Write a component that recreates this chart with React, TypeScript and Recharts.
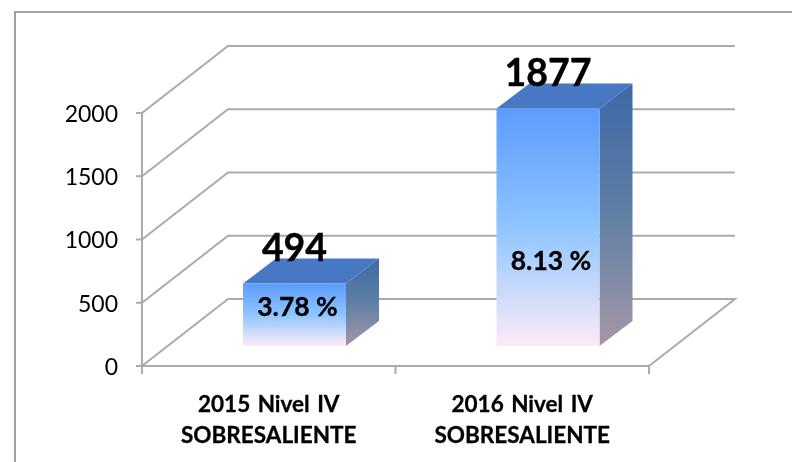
import React from 'react';
import { BarChart, Bar, XAxis, YAxis, CartesianGrid, LabelList } from 'recharts';

const categories = ['2015 Nivel IV|SOBRESALIENTE', '2016 Nivel IV|SOBRESALIENTE'];
const totals = [494, 1877];
const percents = ['3.78 %', '8.13 %'];
const yTicks = [0, 500, 1000, 1500, 2000];

const chartData = categories.map((name, i) => ({ name, total: totals[i], percent: percents[i] }));

// fake 3d: how far the back wall / the bars sit from the axes
const WALL_DX = 86;
const WALL_DY = -67;
const BAR_DX = 26;
const BAR_DY = -20;
const DEPTH_DX = 33;
const DEPTH_DY = -25;
const PERCENT_OFFSET = [26, 155];

const LINE = '#ababab';
const FONT = 'Lato, Carlito, sans-serif';

function WallLine(props: any) {
  const { x1, x2, y1, index } = props;
  const isFloor = index === 0;
  const d = `M${x1},${y1} L${x1 + WALL_DX},${y1 + WALL_DY} L${x2 + WALL_DX},${y1 + WALL_DY}` +
    (isFloor ? ` L${x2},${y1}` : '');
  return <path d={d} fill="none" stroke={LINE} strokeWidth={2} />;
}

function Box(props: any) {
  const { x, y, width, height } = props;
  const left = x + BAR_DX;
  const right = left + width;
  const top = y + BAR_DY;
  const bottom = top + height;
  return (
    <g>
      <polygon
        points={`${left},${top} ${left + DEPTH_DX},${top + DEPTH_DY} ${right + DEPTH_DX},${top + DEPTH_DY} ${right},${top}`}
        fill="#4877c3"
      />
      <polygon
        points={`${right},${top} ${right + DEPTH_DX},${top + DEPTH_DY} ${right + DEPTH_DX},${bottom + DEPTH_DY} ${right},${bottom}`}
        fill="url(#sideFill)"
      />
      <rect x={left} y={top} width={width} height={height} fill="url(#frontFill)" />
    </g>
  );
}

function TotalLabel(props: any) {
  const { x, y, width, value } = props;
  return (
    <text
      x={x + width / 2 + BAR_DX}
      y={y + BAR_DY - 32}
      textAnchor="middle"
      dominantBaseline="middle"
      fontFamily={FONT}
      fontWeight={700}
      fontSize={37.5}
      fill="#000"
      stroke="#000"
      strokeWidth={0.4}
    >
      {value}
    </text>
  );
}

function PercentLabel(props: any) {
  const { x, y, width, value, index } = props;
  return (
    <text
      x={x + width / 2 + BAR_DX + 3}
      y={y + BAR_DY + PERCENT_OFFSET[index]}
      textAnchor="middle"
      dominantBaseline="middle"
      fontFamily={FONT}
      fontWeight={700}
      fontSize={26.5}
      fill="#000"
      stroke="#000"
      strokeWidth={0.3}
    >
      {value}
    </text>
  );
}

// ticks sit on the category edges in the original, not on the centres
function CategoryTick(props: any) {
  const { x, payload, width, visibleTicksCount, index } = props;
  const [first, second] = String(payload.value).split('|');
  const band = width / visibleTicksCount;
  const axisY = 366;
  return (
    <g>
      <line x1={x - band / 2} x2={x - band / 2} y1={axisY} y2={axisY + 8} stroke={LINE} strokeWidth={2} />
      {index === visibleTicksCount - 1 && (
        <line x1={x + band / 2} x2={x + band / 2} y1={axisY} y2={axisY + 8} stroke={LINE} strokeWidth={2} />
      )}
      <text textAnchor="middle" fontFamily={FONT} fontWeight={700} fontSize={22.5} fill="#000" stroke="#000" strokeWidth={0.3}>
        <tspan x={x} y={412} wordSpacing={2}>{first}</tspan>
        <tspan x={x} y={443}>{second}</tspan>
      </text>
    </g>
  );
}

function ValueTick(props: any) {
  const { x, y, payload } = props;
  return (
    <text x={x} y={y + 3} textAnchor="end" dominantBaseline="middle" fontFamily={FONT} fontSize={23} fill="#000">
      {payload.value}
    </text>
  );
}

export default function App() {
  return (
    <div
      style={{
        position: 'absolute',
        left: 0,
        top: 0,
        width: 792,
        height: 462,
        background: '#fff',
        overflow: 'hidden',
        filter: 'blur(0.5px)',
      }}
    >
      <div
        style={{
          position: 'absolute',
          left: 14,
          top: 11,
          width: 800,
          height: 470,
          border: '2px solid #a0a0a0',
          boxSizing: 'border-box',
        }}
      />
      <BarChart
        width={792}
        height={462}
        data={chartData}
        margin={{ top: 113, right: 143, bottom: 66, left: 82 }}
        barSize={103}
        style={{ position: 'absolute', left: 0, top: 0 }}
      >
        <defs>
          <linearGradient id="frontFill" x1="0" y1="0" x2="0" y2="1">
            <stop offset="0%" stopColor="#5b9cff" />
            <stop offset="50%" stopColor="#8fc5ff" />
            <stop offset="100%" stopColor="#fdebf7" />
          </linearGradient>
          <linearGradient id="sideFill" x1="0" y1="0" x2="0" y2="1">
            <stop offset="0%" stopColor="#3e69a8" />
            <stop offset="50%" stopColor="#5f80a5" />
            <stop offset="100%" stopColor="#a596a8" />
          </linearGradient>
        </defs>
        <CartesianGrid vertical={false} horizontal={WallLine} />
        <XAxis
          dataKey="name"
          axisLine={{ stroke: LINE, strokeWidth: 2 }}
          tickLine={false}
          tick={CategoryTick}
          height={30}
          interval={0}
        />
        <YAxis
          domain={[0, 2000]}
          ticks={yTicks}
          width={60}
          axisLine={{ stroke: LINE, strokeWidth: 2 }}
          tickLine={{ stroke: LINE, strokeWidth: 2 }}
          tickSize={6}
          tickMargin={18}
          tick={ValueTick}
        />
        <Bar dataKey="total" shape={Box} isAnimationActive={false}>
          <LabelList dataKey="total" content={TotalLabel} />
          <LabelList dataKey="percent" content={PercentLabel} />
        </Bar>
      </BarChart>
    </div>
  );
}
